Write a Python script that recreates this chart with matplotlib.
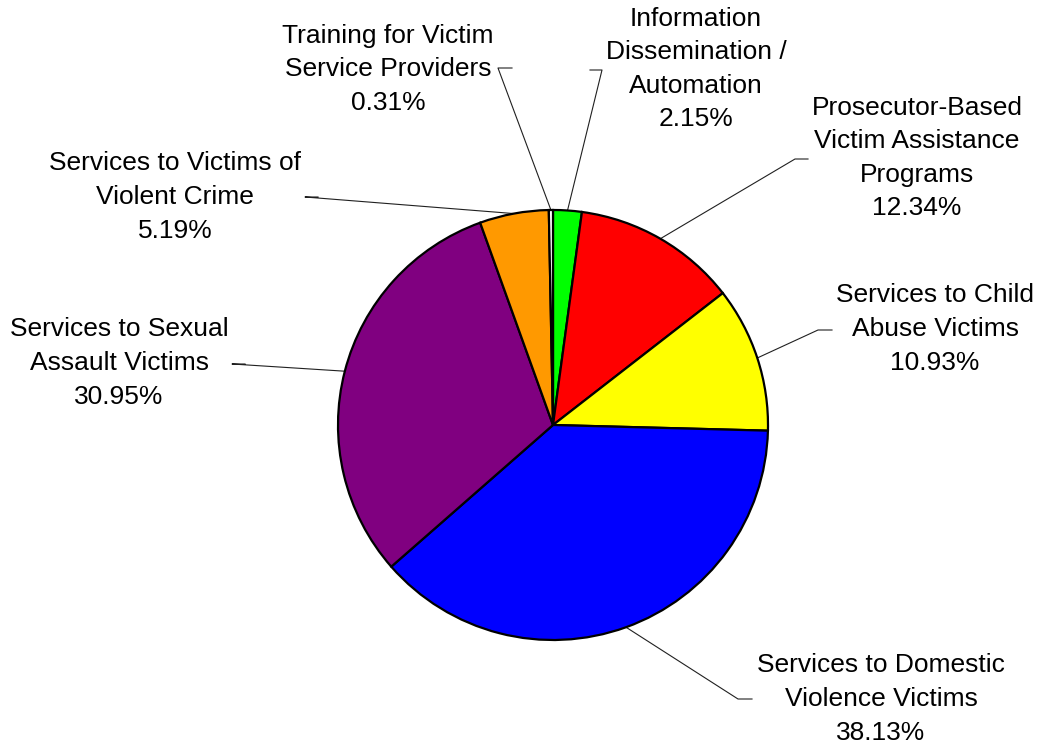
import numpy as np
import matplotlib
matplotlib.use("Agg")
import matplotlib.pyplot as plt

plt.rcParams['font.family'] = ['Liberation Sans', 'DejaVu Sans']

# Share of funds by program category (percent), clockwise from 12 o'clock
categories = ["Information\nDissemination /\nAutomation",
              "Prosecutor-Based\nVictim Assistance\nPrograms",
              "Services to Child\nAbuse Victims",
              "Services to Domestic\nViolence Victims",
              "Services to Sexual\nAssault Victims",
              "Services to Victims of\nViolent Crime",
              "Training for Victim\nService Providers"]
shares = [2.15, 12.34, 10.93, 38.13, 30.95, 5.19, 0.31]
colors = ["#00FF00", "#FF0000", "#FFFF00", "#0000FF", "#800080", "#FF9900", "#FFFFFF"]

# label placement in pixel space: text centre, stub start/end (x), stub y
label_xy = [(696, 69), (917, 158), (935, 329), (881, 699), (119, 363), (175, 197), (388, 69)]
stubs = [(590, 602, 70), (808, 795, 159), (832, 818, 330), (752, 738, 699),
         (245, 232, 364), (318, 305, 197), (512, 498, 68)]

W, H = 1039, 751
cx, cy, R = 553, 425, 215

fig = plt.figure(figsize=(W / 100, H / 100), dpi=100)
ax = fig.add_axes([0, 0, 1, 1])

# y axis is inverted, so start at -90 and go counterclockwise in data => clockwise on screen from top
wedges, _ = ax.pie(shares, colors=colors, startangle=-90, counterclock=True,
                   center=(cx, cy), radius=R, frame=True,
                   wedgeprops=dict(edgecolor='black', linewidth=1.6))
ax.set_xlim(0, W)
ax.set_ylim(H, 0)  # pixel-like coordinates, y down
ax.axis('off')

for w, cat, val, (tx, ty), (sx0, sx1, sy) in zip(wedges, categories, shares, label_xy, stubs):
    mid = np.deg2rad((w.theta1 + w.theta2) / 2)
    px = cx + R * np.cos(mid)
    py = cy + R * np.sin(mid)
    # leader line: pie edge -> stub end -> stub start (next to text)
    ax.plot([px, sx1, sx0], [py, sy, sy], color='#202020', lw=0.8, zorder=0.5)
    ax.text(tx, ty, f"{cat}\n{val:.2f}%", ha='center', va='center',
            fontsize=19, linespacing=1.5, color='black')

fig.savefig("out.png", dpi=100)
